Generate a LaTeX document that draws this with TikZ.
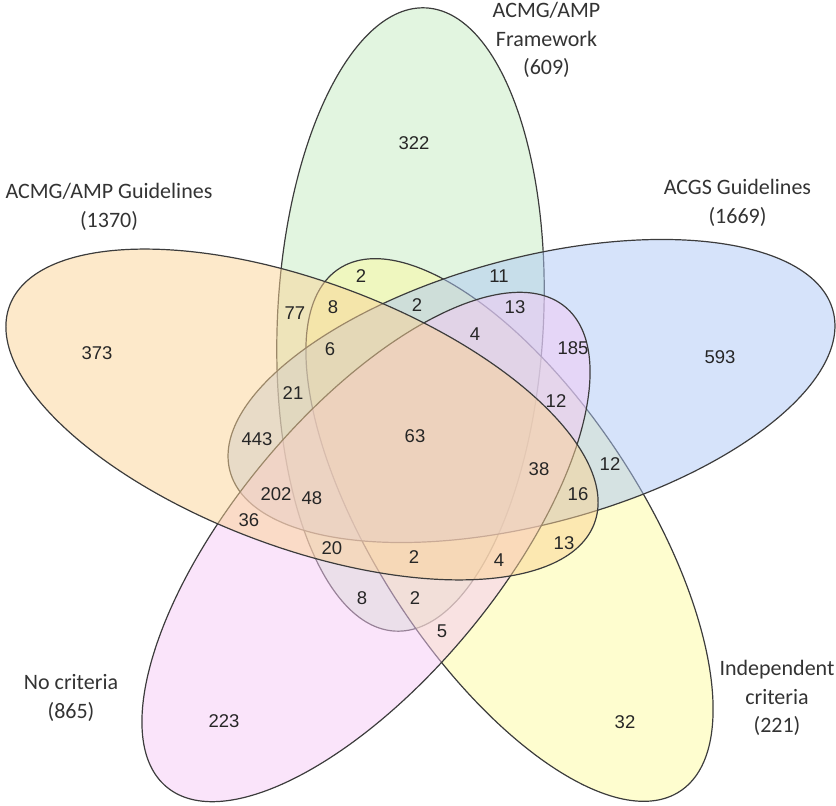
\documentclass[tikz,border=0pt]{standalone}
\usepackage{fontspec}
\setmainfont{Carlito}
\newfontfamily\numfont{Liberation Sans}
\definecolor{cgreen}{RGB}{197,235,193}
\definecolor{corange}{RGB}{251,211,149}
\definecolor{cblue}{RGB}{173,199,245}
\definecolor{cpink}{RGB}{245,201,245}
\definecolor{cyellow}{RGB}{253,251,159}
\definecolor{cline}{RGB}{60,60,60}
\begin{document}
\begin{tikzpicture}[x=1pt,y=1pt,
  setshape/.style={fill=#1, fill opacity=0.5, draw=cline, line width=1.2pt},
  num/.style={font=\numfont\fontsize{18.5}{20}\selectfont, text=black!85, inner sep=0pt},
  lab/.style={font=\fontsize{22}{28.5}\selectfont, align=center, text=black!80, inner sep=0pt}]
\useasboundingbox (0,0) rectangle (836,806);
% ellipses (image y converted: y' = 806 - y)
\draw[setshape=cgreen, rotate around={87.2:(410.5,486.5)}] (410.5,486.5) ellipse [x radius=312, y radius=133];
\draw[setshape=cyellow, rotate around={-56.9:(509.5,276)}] (509.5,276) ellipse [x radius=312, y radius=133];
\draw[setshape=cblue, rotate around={14.9:(531.5,415)}] (531.5,415) ellipse [x radius=312, y radius=133];
\draw[setshape=cpink, rotate around={50.3:(366,259)}] (366,259) ellipse [x radius=312, y radius=133];
\draw[setshape=corange, rotate around={-20.4:(302,391.5)}] (302,391.5) ellipse [x radius=312, y radius=133];
% labels
\node[lab] (lfw) at (546.5,766) {ACMG/AMP\\Framework\\(609)};
\node[lab] (lgl) at (109,599) {ACMG/AMP Guidelines\\(1370)};
\node[lab] (lacgs) at (737.5,603) {ACGS Guidelines\\(1669)};
\node[lab] (lno) at (71,108) {No criteria\\(865)};
\node[lab] (lind) at (777,108) {Independent\\criteria\\(221)};
% region counts
\node[num] (n373) at (97,453) {373};
\node[num] (n322) at (414,663) {322};
\node[num] (n593) at (720,449) {593};
\node[num] (n223) at (224,85) {223};
\node[num] (n32) at (625,84) {32};
\node[num] (n11) at (499,530) {11};
\node[num] (n2a) at (361,530) {2};
\node[num] (n13a) at (515,499) {13};
\node[num] (n8a) at (333,499) {8};
\node[num] (n2b) at (417,501) {2};
\node[num] (n77) at (295,493) {77};
\node[num] (n6) at (330,457) {6};
\node[num] (n4a) at (475,472) {4};
\node[num] (n185) at (573,458) {185};
\node[num] (n21) at (293,413) {21};
\node[num] (n12a) at (556,405) {12};
\node[num] (n443) at (257,367) {443};
\node[num] (n63) at (415,370) {63};
\node[num] (n38) at (539,337) {38};
\node[num] (n12b) at (610,342) {12};
\node[num] (n16) at (578,312) {16};
\node[num] (n202) at (276,312) {202};
\node[num] (n48) at (312,308) {48};
\node[num] (n36) at (249,286) {36};
\node[num] (n20) at (332,258) {20};
\node[num] (n2c) at (414,249) {2};
\node[num] (n4b) at (499,246) {4};
\node[num] (n13b) at (564,263) {13};
\node[num] (n8b) at (362,208) {8};
\node[num] (n2d) at (415,208) {2};
\node[num] (n5) at (442,175) {5};
\end{tikzpicture}
\end{document}
